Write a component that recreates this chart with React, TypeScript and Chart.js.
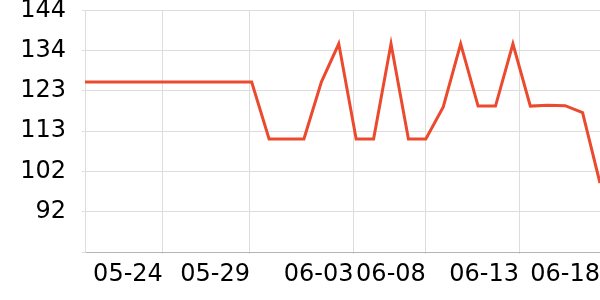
import React, { useEffect, useRef } from 'react';
import { Chart, registerables } from 'chart.js';

Chart.register(...registerables);

// Daily dates (category of each point)
const dates = [
  '05-19', '05-20', '05-21', '05-22', '05-23', '05-24', '05-25', '05-26', '05-27', '05-28',
  '05-29', '05-30', '05-31', '06-01', '06-02', '06-03', '06-04', '06-05', '06-06', '06-07',
  '06-08', '06-09', '06-10', '06-11', '06-12', '06-13', '06-14', '06-15', '06-16', '06-17',
  '06-18',
];

// Series values
const prices = [
  125.5, 125.5, 125.5, 125.5, 125.5, 125.5, 125.5, 125.5, 125.5, 125.5,
  125.5, 110.8, 110.8, 110.8, 125.5, 135.4, 110.8, 110.8, 135.4, 110.8,
  110.8, 119.1, 135.4, 119.3, 119.3, 135.4, 119.3, 119.5, 119.4, 117.6,
  99.4,
];

// Axis ticks
const yTickValues = [81.6, 92, 102.4, 112.8, 123.2, 133.6, 144];
const yTickLabels = ['', '92', '102', '113', '123', '134', '144'];
const xTickValues = [4.9, 9.9, 15.85, 20, 25.35, 30];
const xTickLabels = ['05-24', '05-29', '06-03', '06-08', '06-13', '06-18'];
const xMin = 0.43;
const xMax = 30;

export default function App() {
  const ref = useRef<HTMLCanvasElement | null>(null);

  useEffect(() => {
    document.body.style.margin = '0';
    const canvas = ref.current;
    if (!canvas) return;
    const font = { family: 'DejaVu Sans', size: 24 };
    const chart = new Chart(canvas, {
      type: 'line',
      data: {
        labels: dates,
        datasets: [
          {
            label: 'value',
            data: prices.map((y, i) => ({ x: i, y })),
            borderColor: '#eb4a2e',
            backgroundColor: '#eb4a2e',
            borderWidth: 3,
            pointRadius: 0,
            pointHoverRadius: 0,
            tension: 0,
            clip: 0,
          },
        ],
      },
      options: {
        animation: false,
        responsive: false,
        maintainAspectRatio: false,
        layout: { padding: 0 },
        plugins: {
          legend: { display: false },
          tooltip: { enabled: false },
        },
        scales: {
          x: {
            type: 'linear',
            min: xMin,
            max: xMax,
            afterBuildTicks: (scale: any) => {
              scale.ticks = xTickValues.map((value) => ({ value }));
            },
            afterFit: (scale: any) => {
              scale.height = 48;
              scale.paddingRight = 0;
              scale.paddingLeft = 0;
            },
            grid: { color: '#dddddd', lineWidth: 1, tickLength: 2, drawTicks: true },
            border: { color: '#b5b5b5', width: 1 },
            ticks: {
              autoSkip: false,
              maxRotation: 0,
              minRotation: 0,
              align: 'end',
              padding: 6,
              color: '#000000',
              font: { ...font, lineHeight: 1.2 },
              callback: (_v: any, i: number) => xTickLabels[i],
            },
          },
          y: {
            type: 'linear',
            min: yTickValues[0],
            max: yTickValues[yTickValues.length - 1],
            afterBuildTicks: (scale: any) => {
              scale.ticks = yTickValues.map((value) => ({ value }));
            },
            afterFit: (scale: any) => {
              scale.width = 85;
              scale.paddingTop = 10.5;
              scale.paddingBottom = 0;
            },
            grid: { color: '#dddddd', lineWidth: 1, tickLength: 3, drawTicks: true },
            border: { color: '#dddddd', width: 1 },
            ticks: {
              padding: 16,
              color: '#000000',
              font: { ...font, lineHeight: 0.875 },
              callback: (_v: any, i: number) => yTickLabels[i],
            },
          },
        },
      },
    });
    return () => chart.destroy();
  }, []);

  return (
    <div style={{ width: 600, height: 300 }}>
      <canvas ref={ref} width={600} height={300} />
    </div>
  );
}
